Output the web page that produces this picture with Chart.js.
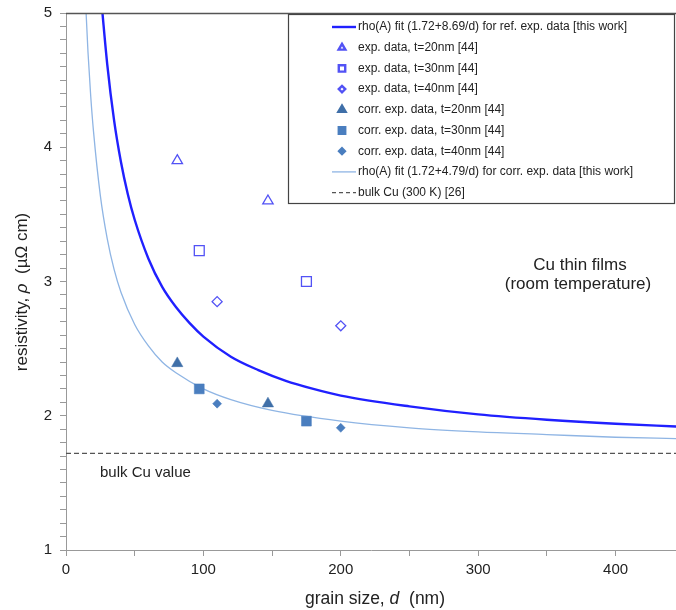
<!DOCTYPE html>
<html>
<head>
<meta charset="utf-8">
<script src="https://cdn.jsdelivr.net/npm/chart.js@4.4.1/dist/chart.umd.min.js"></script>
<style>
  html, body { margin: 0; padding: 0; background: #fff; }
  #wrap { width: 676px; height: 610px; }
</style>
</head>
<body>
<div id="wrap"><canvas id="grainChart" width="676" height="610"></canvas></div>
<script>
// fit curves
const dFitRef = [26, 30, 35, 40, 45, 50, 60, 70, 80, 90, 100, 120, 140, 160, 180, 200, 250, 300, 350, 400, 445];
const rhoFitRef = [5.06, 4.62, 4.20, 3.89, 3.65, 3.46, 3.17, 2.96, 2.81, 2.69, 2.59, 2.44, 2.34, 2.26, 2.20, 2.15, 2.07, 2.01, 1.97, 1.94, 1.92];
const dFitCorr = [14, 16, 18, 20, 25, 30, 35, 40, 50, 60, 70, 80, 100, 120, 150, 200, 250, 300, 350, 400, 445];
const rhoFitCorr = [5.14, 4.71, 4.38, 4.12, 3.64, 3.32, 3.09, 2.92, 2.68, 2.52, 2.40, 2.32, 2.20, 2.12, 2.04, 1.96, 1.91, 1.88, 1.86, 1.84, 1.83];

// measured points (grain size d in nm)
const dT20 = [81, 147];
const dT30 = [97, 175];
const dT40 = [110, 200];
const rhoExpT20 = [3.90, 3.60];
const rhoExpT30 = [3.23, 3.00];
const rhoExpT40 = [2.85, 2.67];
const rhoCorrT20 = [2.39, 2.09];
const rhoCorrT30 = [2.20, 1.96];
const rhoCorrT40 = [2.09, 1.91];

// bulk reference
const dBulk = [0, 445];
const rhoBulk = [1.72, 1.72];

const seriesLabels = [
  'rho(A) fit (1.72+8.69/d) for ref. exp. data [this work]',
  'exp. data, t=20nm [44]',
  'exp. data, t=30nm [44]',
  'exp. data, t=40nm [44]',
  'corr. exp. data, t=20nm [44]',
  'corr. exp. data, t=30nm [44]',
  'corr. exp. data, t=40nm [44]',
  'rho(A) fit (1.72+4.79/d) for corr. exp. data [this work]',
  'bulk Cu (300 K) [26]'
];

const FONT = '"Liberation Sans", Arial, sans-serif';
const TXT = '#222';

function pts(xs, ys) {
  return xs.map((x, i) => ({ x: x, y: ys[i] }));
}

const openBlue = '#5252f5';
const fillBlue = '#4a7ebf';

function lineSet(label, xs, ys, color, width, dash) {
  return {
    type: 'line', label: label, data: pts(xs, ys),
    borderColor: color, borderWidth: width, borderDash: dash || [],
    pointRadius: 0, fill: false, cubicInterpolationMode: 'monotone'
  };
}
function markSet(label, xs, ys, style, radius, open, color) {
  return {
    type: 'scatter', label: label, data: pts(xs, ys),
    pointStyle: style, pointRadius: radius,
    borderColor: color, backgroundColor: open ? 'rgba(255,255,255,0)' : color,
    borderWidth: open ? 1.3 : 0.5, showLine: false
  };
}

const datasets = [
  lineSet(seriesLabels[0], dFitRef, rhoFitRef, '#2020ff', 2.4),
  markSet(seriesLabels[1], dT20, rhoExpT20, 'triangle', 6, true, openBlue),
  markSet(seriesLabels[2], dT30, rhoExpT30, 'rect', 7, true, openBlue),
  markSet(seriesLabels[3], dT40, rhoExpT40, 'rectRot', 5, true, openBlue),
  markSet(seriesLabels[4], dT20, rhoCorrT20, 'triangle', 6.5, false, '#3f6fa8'),
  markSet(seriesLabels[5], dT30, rhoCorrT30, 'rect', 7, false, fillBlue),
  markSet(seriesLabels[6], dT40, rhoCorrT40, 'rectRot', 4.5, false, fillBlue),
  lineSet(seriesLabels[7], dFitCorr, rhoFitCorr, '#8fb5e4', 1.3),
  lineSet(seriesLabels[8], dBulk, rhoBulk, '#555', 1.2, [5, 3])
];

function drawMixed(ctx, parts, cx, cy) {
  // parts: [text, italic, size]
  let total = 0;
  parts.forEach(p => {
    ctx.font = (p[1] ? 'italic ' : '') + p[2] + 'px ' + FONT;
    p.w = ctx.measureText(p[0]).width;
    total += p.w;
  });
  let x = cx - total / 2;
  parts.forEach(p => {
    ctx.font = (p[1] ? 'italic ' : '') + p[2] + 'px ' + FONT;
    ctx.fillText(p[0], x, cy);
    x += p.w;
  });
}

const extrasPlugin = {
  id: 'extras',
  afterDraw(chart) {
    const ctx = chart.ctx;
    const a = chart.chartArea;
    ctx.save();

    // top frame line
    ctx.strokeStyle = '#555';
    ctx.lineWidth = 1.5;
    ctx.beginPath();
    ctx.moveTo(a.left, a.top + 0.5);
    ctx.lineTo(a.right, a.top + 0.5);
    ctx.stroke();

    // legend box
    ctx.fillStyle = '#fff';
    ctx.fillRect(288, 14, 387, 189);
    ctx.strokeStyle = '#444';
    ctx.lineWidth = 1.2;
    ctx.strokeRect(288.5, 14.5, 386, 189);

    ctx.textBaseline = 'middle';
    ctx.textAlign = 'left';
    chart.data.datasets.forEach((ds, i) => {
      const y = 27 + i * 20.7;
      if (ds.type === 'line') {
        ctx.strokeStyle = ds.borderColor;
        ctx.lineWidth = ds.borderWidth;
        ctx.setLineDash(ds.borderDash.length ? [4, 3] : []);
        ctx.beginPath();
        ctx.moveTo(332, y);
        ctx.lineTo(356, y);
        ctx.stroke();
        ctx.setLineDash([]);
      } else {
        ctx.fillStyle = ds.backgroundColor;
        ctx.strokeStyle = ds.borderColor;
        Chart.helpers.drawPoint(ctx, {
          pointStyle: ds.pointStyle,
          radius: ds.pointRadius * 0.65,
          rotation: 0,
          borderWidth: ds.borderWidth
        }, 342, y);
      }
      ctx.fillStyle = TXT;
      ctx.font = '12px ' + FONT;
      ctx.fillText(ds.label, 358, y);
    });

    // annotations
    ctx.fillStyle = TXT;
    ctx.textAlign = 'center';
    ctx.font = '17px ' + FONT;
    ctx.fillText('Cu thin films', 580, 265);
    ctx.fillText('(room temperature)', 578, 284);
    ctx.textAlign = 'left';
    ctx.font = '15px ' + FONT;
    ctx.fillText('bulk Cu value', 100, 473);

    // axis titles
    ctx.textAlign = 'left';
    drawMixed(ctx, [['grain size, ', false, 17.5], ['d', true, 17.5], ['  (nm)', false, 17.5]], 375, 599);
    ctx.translate(22, 292);
    ctx.rotate(-Math.PI / 2);
    drawMixed(ctx, [['resistivity, ', false, 17], ['\u03c1', true, 17], ['  (\u00b5\u03a9 cm)', false, 17]], 0, 0);

    ctx.restore();
  }
};

new Chart(document.getElementById('grainChart'), {
  type: 'scatter',
  data: { datasets: datasets },
  options: {
    responsive: false,
    animation: false,
    events: [],
    layout: { autoPadding: false, padding: { top: 13, right: 0, left: 0, bottom: 0 } },
    plugins: { legend: { display: false }, tooltip: { enabled: false } },
    scales: {
      x: {
        type: 'linear', min: 0, max: 444,
        grid: { drawOnChartArea: false, tickLength: 6, color: '#999' },
        border: { color: '#999', width: 1 },
        ticks: {
          stepSize: 50, autoSkip: false, maxRotation: 0, padding: 5,
          color: TXT, font: { family: FONT, size: 15 },
          callback: v => (v % 100 === 0 ? v : '')
        },
        afterFit: s => { s.height = 60; s.paddingLeft = 0; s.paddingRight = 0; }
      },
      y: {
        type: 'linear', min: 1, max: 5,
        grid: { drawOnChartArea: false, tickLength: 6, color: '#999' },
        border: { color: '#999', width: 1 },
        ticks: {
          stepSize: 0.1, autoSkip: false, padding: 8,
          color: TXT, font: { family: FONT, size: 15 },
          callback: v => (Math.abs(v - Math.round(v)) < 1e-6 ? Math.round(v) : '')
        },
        afterFit: s => { s.width = 66; s.paddingTop = 0; s.paddingBottom = 0; }
      }
    }
  },
  plugins: [extrasPlugin]
});
</script>
</body>
</html>
